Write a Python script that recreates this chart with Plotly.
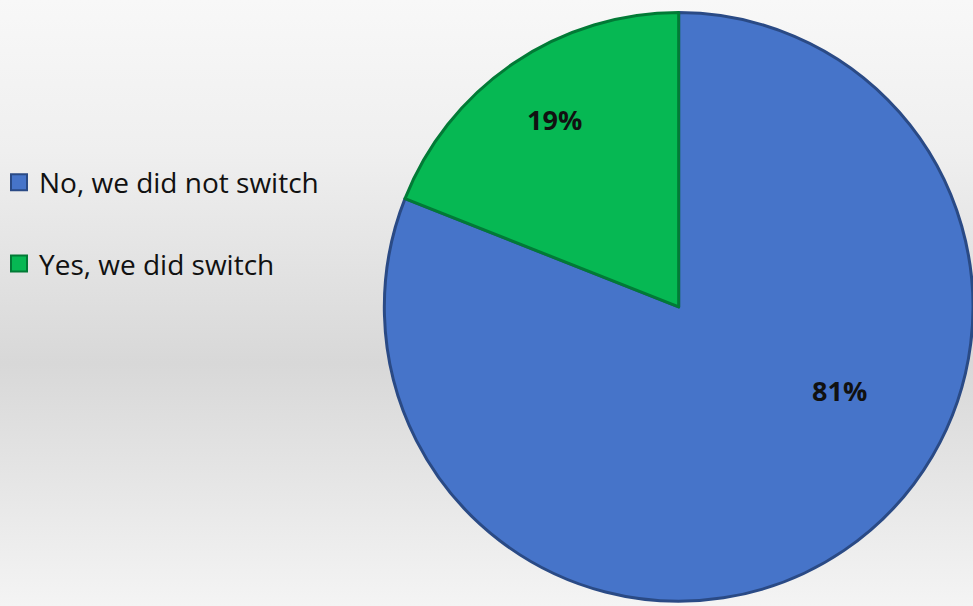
import plotly.graph_objects as go

labels = ["No, we did not switch", "Yes, we did switch"]
values = [81, 19]
colors = ["#4674C9", "#06B853"]
edge_colors = ["#2A4A85", "#027a36"]

fig = go.Figure()

# gradient background
fig.add_trace(go.Scatter(
    x=[0, 1, 1, 0, 0], y=[0, 0, 1, 1, 0], mode="lines", fill="toself",
    line=dict(width=0, color="rgba(0,0,0,0)"),
    fillgradient=dict(type="vertical",
                      colorscale=[[0, "#f4f4f4"], [0.40, "#d8d8d8"], [0.75, "#efefef"], [1, "#f8f8f8"]]),
    hoverinfo="skip", showlegend=False))

fig.add_trace(go.Pie(
    labels=labels, values=values, sort=False, direction="clockwise", rotation=0,
    marker=dict(colors=colors, line=dict(color=edge_colors, width=3)),
    textinfo="none", showlegend=False, hoverinfo="label+percent",
    domain=dict(x=[0.395, 1.0], y=[0.0, 0.987])))

# legend entries
for i, (lab, col, ec) in enumerate(zip(labels, colors, edge_colors)):
    fig.add_trace(go.Scatter(
        x=[None], y=[None], mode="markers", name=lab, legendgroup=f"g{i}",
        marker=dict(symbol="square", size=17, color=col, line=dict(color=ec, width=2))))

total = sum(values)
label_pos = [(0.863, 0.355), (0.570, 0.802)]
for v, (px, py) in zip(values, label_pos):
    fig.add_annotation(x=px, y=py, xref="paper", yref="paper", xanchor="center", yanchor="middle",
                       text=f"<b>{round(100 * v / total)}%</b>", showarrow=False,
                       font=dict(family="Open Sans, Lato, sans-serif", size=27, color="#111111"))

fig.update_layout(
    width=973, height=606,
    margin=dict(l=0, r=0, t=0, b=0, autoexpand=False),
    paper_bgcolor="#f0f0f0", plot_bgcolor="rgba(0,0,0,0)",
    xaxis=dict(range=[0, 1], visible=False, fixedrange=True),
    yaxis=dict(range=[0, 1], visible=False, fixedrange=True),
    legend=dict(x=-0.001, y=0.632, xanchor="left", yanchor="middle",
                font=dict(family="Open Sans, Lato, sans-serif", size=28, color="#111111"),
                tracegroupgap=42, bgcolor="rgba(0,0,0,0)", itemwidth=30),
)

fig.write_html("out.html", config={"displayModeBar": False},
               post_script="document.body.style.margin='0';")
